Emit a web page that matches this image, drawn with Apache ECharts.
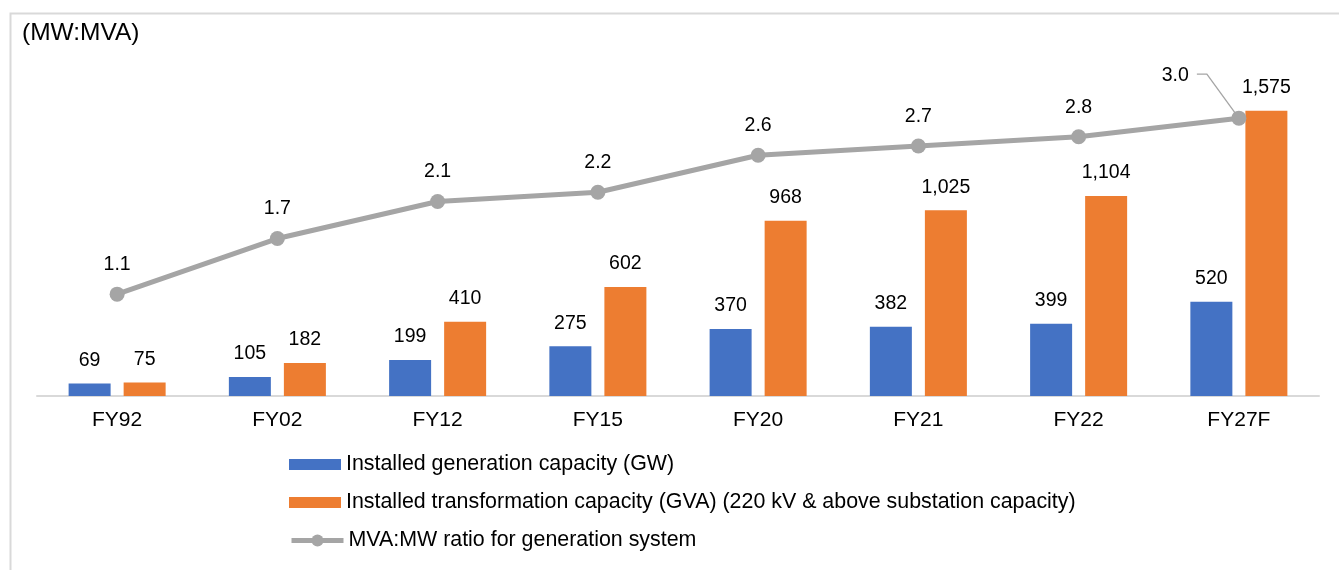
<!DOCTYPE html>
<html>
<head>
<meta charset="utf-8">
<script src="https://cdn.jsdelivr.net/npm/echarts@6/dist/echarts.min.js"></script>
<style>
html,body{margin:0;padding:0;background:#fff;}
#chart{width:1339px;height:570px;}
</style>
</head>
<body>
<div id="chart"></div>
<script>
const categories = ['FY92','FY02','FY12','FY15','FY20','FY21','FY22','FY27F'];
const generationGW = [69,105,199,275,370,382,399,520];
const transformationGVA = [75,182,410,602,968,1025,1104,1575];
const ratio = [1.1,1.7,2.1,2.2,2.6,2.7,2.8,3.0];
const seriesNames = [
  'Installed generation capacity (GW)',
  'Installed transformation capacity (GVA) (220 kV & above substation capacity)',
  'MVA:MW ratio for generation system'
];
const unitLabel = '(MW:MVA)';

const FONT = '"Liberation Sans", Arial, sans-serif';
const TXT = '#000';
const GRAY = '#a5a5a5';
const lastIdx = categories.length - 1;

const ratioData = ratio.map((v, i) => i === lastIdx ? {value: v, label: {show: false}} : v);

const chart = echarts.init(document.getElementById('chart'));
const legendText = {fontSize: 21.4, color: TXT, fontFamily: FONT};
chart.setOption({
  animation: false,
  backgroundColor: '#fff',
  textStyle: {fontFamily: FONT},
  title: {
    text: unitLabel, left: 22, top: 21, padding: 0,
    textStyle: {fontSize: 24.5, fontWeight: 'normal', color: TXT, fontFamily: FONT}
  },
  grid: {left: 37, right: 20, top: 70, bottom: 174, containLabel: false},
  legend: [
    {
      orient: 'vertical', left: 289, top: 454, padding: 0,
      itemWidth: 52, itemHeight: 11, itemGap: 17,
      textStyle: legendText,
      data: [
        {name: seriesNames[0], icon: 'rect'},
        {name: seriesNames[1], icon: 'rect'}
      ]
    },
    {
      orient: 'vertical', left: 289, top: 530, padding: 0,
      itemWidth: 52, itemHeight: 15,
      textStyle: legendText,
      data: [{name: seriesNames[2], lineStyle: {width: 5}}]
    }
  ],
  xAxis: {
    type: 'category', data: categories,
    axisTick: {show: false},
    axisLine: {lineStyle: {color: '#d9d9d9', width: 2}},
    axisLabel: {fontSize: 21, color: TXT, margin: 14, fontFamily: FONT}
  },
  yAxis: [
    {type: 'value', min: 0, max: 1800, show: false, splitLine: {show: false}},
    {type: 'value', min: 0, max: 3.52, show: false, splitLine: {show: false}}
  ],
  series: [
    {
      name: seriesNames[0], type: 'bar', data: generationGW,
      barWidth: 42, barGap: '31%',
      itemStyle: {color: '#4472c4'},
      label: {show: true, position: 'top', distance: 13, fontSize: 19.5, color: TXT, fontFamily: FONT,
        formatter: p => p.value.toLocaleString('en-US')}
    },
    {
      name: seriesNames[1], type: 'bar', data: transformationGVA,
      barWidth: 42,
      itemStyle: {color: '#ed7d31'},
      label: {show: true, position: 'top', distance: 13, fontSize: 19.5, color: TXT, fontFamily: FONT,
        formatter: p => p.value.toLocaleString('en-US')}
    },
    {
      name: seriesNames[2], type: 'line', yAxisIndex: 1, data: ratioData,
      symbol: 'circle', symbolSize: 15,
      lineStyle: {color: GRAY, width: 5},
      itemStyle: {color: GRAY},
      z: 5,
      label: {show: true, position: 'top', distance: 12, fontSize: 19.5, color: TXT, fontFamily: FONT,
        formatter: p => Number(p.value).toFixed(1)}
    }
  ]
});

// Border around the chart, and the displaced label of the last ratio point with its leader line
const pt = chart.convertToPixel({seriesIndex: 2}, [lastIdx, ratio[lastIdx]]);
chart.setOption({
  graphic: [
    {
      type: 'rect', left: 8, top: 11, z: -1, silent: true,
      shape: {width: 1345, height: 580},
      style: {fill: 'none', stroke: '#d9d9d9', lineWidth: 2}
    },
    {
      type: 'polyline', z: 4, silent: true,
      shape: {points: [[pt[0] - 42, pt[1] - 44], [pt[0] - 32, pt[1] - 44], [pt[0], pt[1]]]},
      style: {stroke: GRAY, lineWidth: 1.3, fill: 'none'}
    },
    {
      type: 'text', z: 10, silent: true,
      x: pt[0] - 50, y: pt[1] - 43,
      style: {
        text: ratio[lastIdx].toFixed(1), fill: TXT, fontSize: 19.5, fontFamily: FONT,
        align: 'right', verticalAlign: 'middle'
      }
    }
  ]
});
</script>
</body>
</html>
